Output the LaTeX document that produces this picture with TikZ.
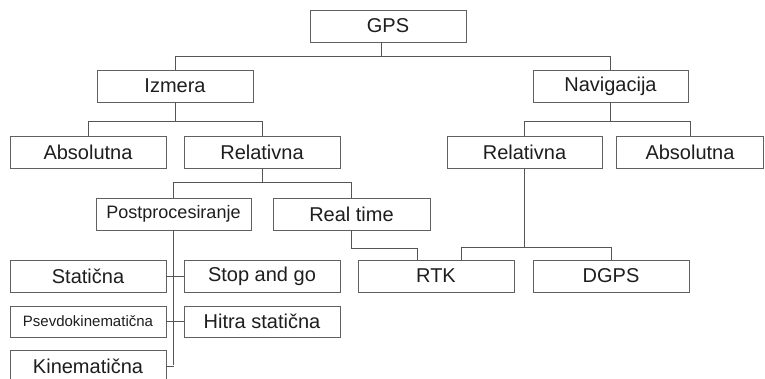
\documentclass[tikz,border=0pt]{standalone}
\usepackage{fontspec}
\setmainfont{Liberation Sans}
\definecolor{boxline}{HTML}{606060}
\definecolor{conn}{HTML}{555555}
\definecolor{txt}{HTML}{1E1E1E}
\tikzset{
  box/.style={draw=boxline, line width=0.9pt, minimum width=156pt, minimum height=32pt, inner sep=0pt, text=txt, font=\fontsize{20}{24}\selectfont},
  smallbox/.style={box, font=\fontsize{18}{22}\selectfont},
  tinybox/.style={box, font=\fontsize{15}{18}\selectfont},
  link/.style={draw=conn, line width=0.9pt}
}
\begin{document}
\begin{tikzpicture}[x=1pt,y=-1pt]
\clip (0,0) rectangle (765,378);
\fill[white] (0,0) rectangle (765,378);
\node[box] (gps) at (388,26) {GPS};
\node[box] (izmera) at (175,86) {Izmera};
\node[box, minimum width=155pt] (nav) at (610.5,86) {Navigacija};
\node[box] (absL) at (88,152) {Absolutna};
\node[box] (relL) at (262,152) {Relativna};
\node[box, minimum width=155pt] (relR) at (524.5,152) {Relativna};
\node[box, minimum width=147pt] (absR) at (690,152) {Absolutna};
\node[smallbox, minimum width=155pt] (post) at (173.5,214) {Postprocesiranje};
\node[box, minimum width=157pt] (real) at (351.5,214) {Real time};
\node[box] (stat) at (88,276) {Statična};
\node[box] (stop) at (262,276) {Stop and go};
\node[tinybox, minimum height=31pt] (psev) at (88,321.5) {Psevdokinematična};
\node[box, minimum height=31pt] (hitra) at (262,321.5) {Hitra statična};
\node[box] (kin) at (88,366) {Kinematična};
\node[box] (rtk) at (436,276) {RTK};
\node[box] (dgps) at (611,276) {DGPS};
% GPS
\draw[link] ([xshift=-7pt]gps.south) -- ++(0,15);
\draw[link] (izmera.north) -- ++(0,-13) -| (nav.north);
% Izmera
\draw[link] (izmera.south) -- ++(0,20);
\draw[link] (absL.north) -- ++(0,-14) -| (relL.north);
% Navigacija
\draw[link] (nav.south) -- ++(0,20);
\draw[link] (relR.north) -- ++(0,-14) -| (absR.north);
% Relativna (left)
\draw[link] (relL.south) -- ++(0,15);
\draw[link] (post.north) -- ++(0,-15) -| (real.north);
% Postprocesiranje
\draw[link] (post.south) -- ++(0,135);
\draw[link] (stat.east) -- (stop.west);
\draw[link] (psev.east) -- (hitra.west);
\draw[link] (kin.east) -- (kin.east -| post.south);
% Real time
\draw[link] (real.south) -- ++(0,18) -| ([xshift=-19pt]rtk.north);
% Relativna (right)
\draw[link] (relR.south) -- ++(0,80);
\draw[link] ([xshift=25pt]rtk.north) -- ++(0,-12) -| (dgps.north);
\end{tikzpicture}
\end{document}
